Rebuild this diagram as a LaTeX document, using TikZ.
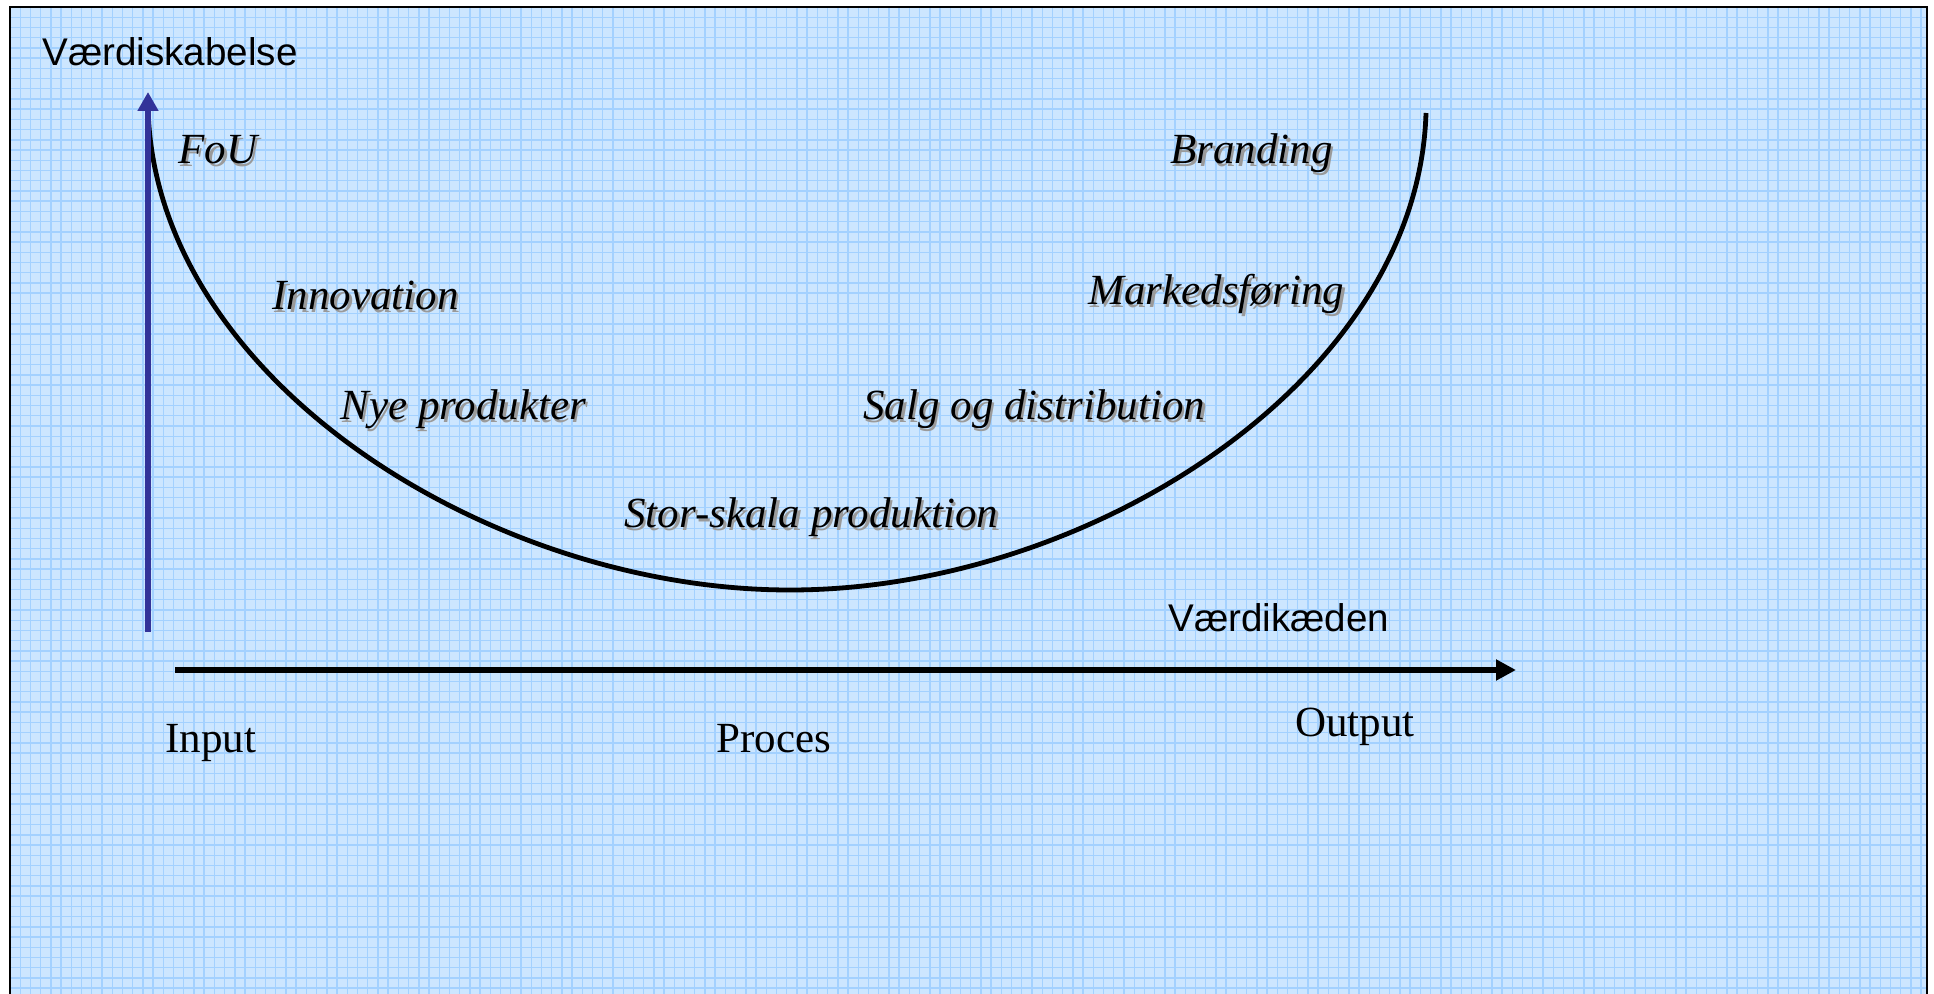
\documentclass[tikz,border=0pt]{standalone}
\usepackage{fontspec}
\setmainfont{Liberation Serif}
\newfontfamily\arialf{Liberation Sans}
\usetikzlibrary{arrows.meta}
\definecolor{bgblue}{HTML}{CCE6FF}
\definecolor{gridblue}{HTML}{A3D1FF}
\definecolor{axisblue}{HTML}{333399}
\definecolor{shadowgray}{HTML}{9A9A9A}
\tikzset{
  sanslbl/.style={inner sep=0pt, anchor=base west, font=\arialf\fontsize{19.3pt}{23pt}\selectfont},
  seriflbl/.style={inner sep=0pt, anchor=base west, font=\fontsize{21.5pt}{26pt}\selectfont},
  itlbl/.style={inner sep=0pt, anchor=base west, font=\fontsize{21.5pt}{26pt}\selectfont\itshape},
  shadowlbl/.style={itlbl, text=shadowgray},
  curveline/.style={line width=2.4pt, black},
}
\begin{document}
\begin{tikzpicture}[x=0.5pt,y=-0.5pt]
\useasboundingbox (0,0) rectangle (1934,994);
\clip (0,0) rectangle (1934,994);
% background panel
\fill[bgblue] (10,7) rectangle (1927,1010);
\begin{scope}
\clip (10,7) rectangle (1927,1010);
\foreach \i in {0,...,188} {
  \draw[gridblue, line width=0.7pt] ({10+10.22*\i},7) -- ({10+10.22*\i},1010);
}
\foreach \j in {0,...,98} {
  \draw[gridblue, line width=0.7pt] (10,{7+10.22*\j}) -- (1927,{7+10.22*\j});
}
\end{scope}
\draw[black, line width=1.2pt] (10,1010) -- (10,7) -- (1927,7) -- (1927,1010);

% coordinates
\coordinate (ybot) at (148,632);
\coordinate (ytop) at (148,92);
\coordinate (xleft) at (175,670);
\coordinate (xright) at (1516,670);
\coordinate (cstart) at (148,108);
\coordinate (cmin) at (790,590);
\coordinate (cend) at (1426,113);

% U curve
\draw[curveline] (cstart) .. controls (155,380) and (490,590) .. (cmin)
  .. controls (1090,590) and (1418,380) .. (cend);

% axes
\draw[axisblue, line width=3.2pt, -{Triangle[width=10pt,length=9.5pt]}] (ybot) -- (ytop);
\draw[black, line width=3.2pt, -{Triangle[width=10pt,length=10pt]}] (xleft) -- (xright);

% axis titles
\node[sanslbl] (vskab) at (42,66) {Værdiskabelse};
\node[sanslbl] (vkaed) at (1168,632) {Værdikæden};

% italic labels with shadow
\node[shadowlbl] (fouS) at (180.5,166.5) {FoU};
\node[itlbl] (fou) at (178,164) {FoU};
\node[shadowlbl] (innS) at (274.5,312.5) {Innovation};
\node[itlbl] (inn) at (272,310) {Innovation};
\node[shadowlbl] (nyeS) at (342.5,422.5) {Nye produkter};
\node[itlbl] (nye) at (340,420) {Nye produkter};
\node[shadowlbl] (storS) at (626.5,530.5) {Stor-skala produktion};
\node[itlbl] (stor) at (624,528) {Stor-skala produktion};
\node[shadowlbl] (salgS) at (865.5,422.5) {Salg og distribution};
\node[itlbl] (salg) at (863,420) {Salg og distribution};
\node[shadowlbl] (markS) at (1090.5,307.5) {Markedsføring};
\node[itlbl] (mark) at (1088,305) {Markedsføring};
\node[shadowlbl] (brandS) at (1172.5,166.5) {Branding};
\node[itlbl] (brand) at (1170,164) {Branding};

% bottom labels
\node[seriflbl] (inp) at (165,752) {Input};
\node[seriflbl] (proc) at (716,752) {Proces};
\node[seriflbl] (outp) at (1295,736) {Output};
\end{tikzpicture}
\end{document}
